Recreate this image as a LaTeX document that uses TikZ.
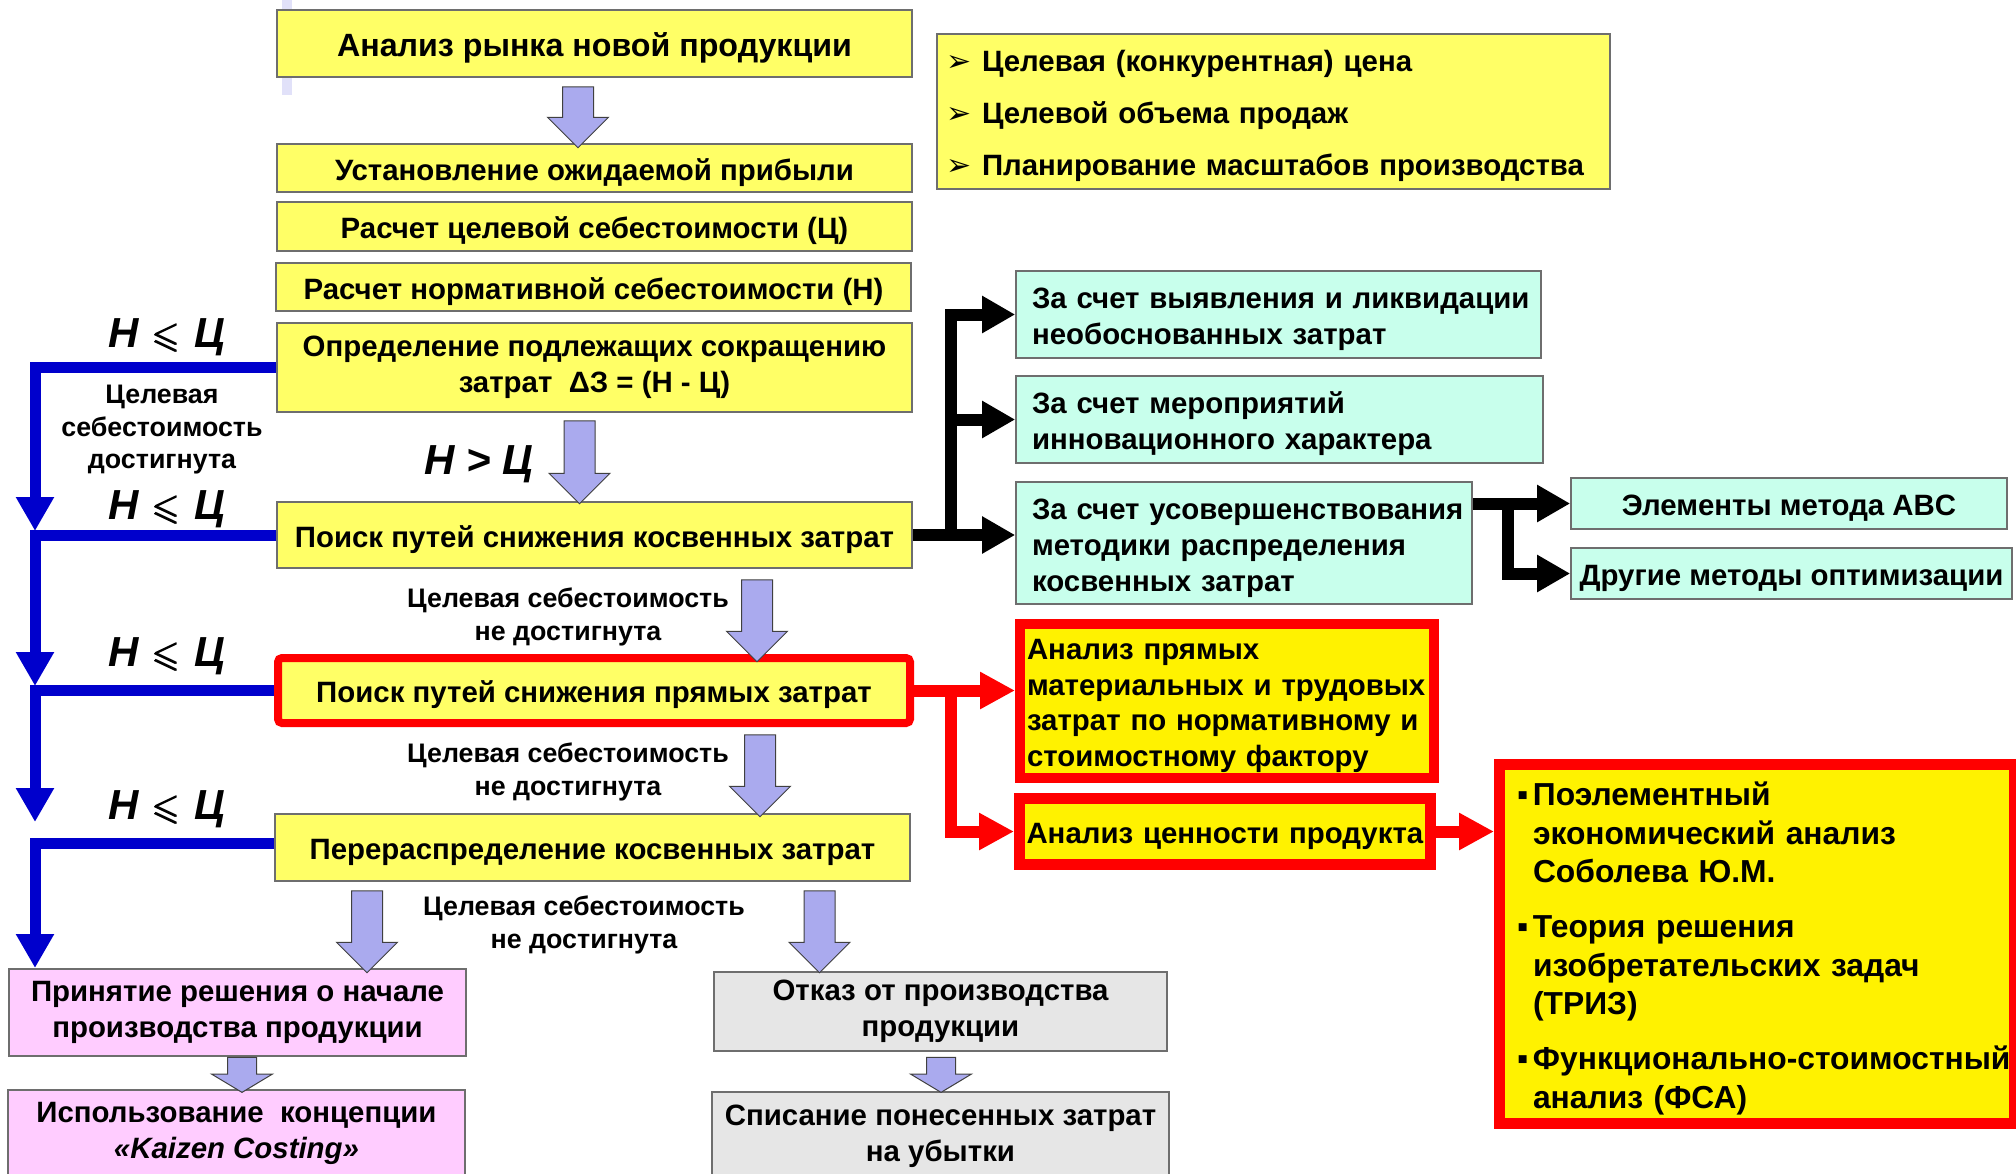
\documentclass[tikz,border=0pt]{standalone}
\usepackage{fontspec}
\usepackage{amsmath,amssymb}
\setmainfont{Liberation Sans}
\newfontfamily\dingfont{DejaVu Sans}
\usetikzlibrary{arrows.meta,shapes.arrows}

\begin{document}
\begin{tikzpicture}[x=0.5pt,y=-0.5pt,
    txt/.style={font=\fontsize{14.7}{18}\selectfont\bfseries, execute at begin node={\rule{0pt}{1.03em}}},
    ybox/.style={txt, draw=boxline, line width=0.8pt, fill=paleyellow, align=center, inner sep=0pt},
    rbox/.style={txt, draw=red, line width=4pt, fill=paleyellow, rounded corners=2pt, align=center, inner sep=0pt},
    pbox/.style={ybox, fill=lightpink},
    gbox/.style={ybox, fill=lightgray},
    cbox/.style={txt, draw=boxline, line width=0.8pt, fill=mint, align=left, inner xsep=8pt, inner ysep=0pt},
    ccbox/.style={ybox, fill=mint},
    hbox/.style={txt, draw=red, fill=yellow, align=left, inner ysep=0pt},
    cond/.style={font=\fontsize{21}{25}\selectfont\bfseries\itshape, inner sep=0pt},
    note/.style={font=\fontsize{13.4}{16.25}\selectfont\bfseries, align=center, inner sep=0pt},
    larr/.style={single arrow, draw=black!75, line width=0.5pt, fill=lavender, rotate=-90,
        inner xsep=0pt, inner ysep=7.5pt, single arrow head extend=7.5pt, minimum height=#1},
    sarr/.style={larr=#1, inner ysep=7pt, single arrow head extend=8pt, single arrow tip angle=118},
    blk/.style={draw=black, line width=6pt, -{Triangle[width=17.5pt,length=16.5pt]}},
    redarr/.style={draw=red, line width=6pt, -{Triangle[width=17.5pt,length=17.5pt]}},
    bluearr/.style={draw=deepblue, line width=5.5pt, -{Triangle[width=18pt,length=17pt]}}]
    % Define colors
    \definecolor{paleyellow}{RGB}{255,255,102}
    \definecolor{lightpink}{RGB}{255,204,255}
    \definecolor{lightgray}{RGB}{230,230,230}
    \definecolor{mint}{RGB}{200,255,236}
    \definecolor{lavender}{RGB}{170,170,238}
    \definecolor{deepblue}{RGB}{0,0,204}
    \definecolor{boxline}{RGB}{110,110,110}

    \useasboundingbox (0,0) rectangle (2016,1173);
    \fill[lavender!35] (282,0) rectangle (292,95);

    % Main column
    \node[ybox, font=\fontsize{16.1}{18}\selectfont\bfseries, minimum width=317.5pt, minimum height=33.5pt] (market) at (594.5,43.5) {Анализ рынка новой продукции};
    \node[ybox, minimum width=317.5pt, minimum height=24pt] (profit) at (594.5,168) {Установление ожидаемой прибыли};
    \node[ybox, minimum width=317.5pt, minimum height=24.5pt] (target) at (594.5,226.5) {Расчет целевой себестоимости (Ц)};
    \node[ybox, minimum width=317.5pt, minimum height=24pt] (norm) at (593.5,287) {Расчет нормативной себестоимости (Н)};
    \node[ybox, minimum width=317.5pt, minimum height=44.5pt] (cut) at (594.5,367.5) {Определение подлежащих сокращению\\затрат\ \ ΔЗ = (Н - Ц)};
    \node[ybox, minimum width=317.5pt, minimum height=33pt] (indirect) at (594.5,535) {Поиск путей снижения косвенных затрат};
    \node[rbox, minimum width=316pt, minimum height=32.5pt] (direct) at (594,690.5) {Поиск путей снижения прямых затрат};
    \node[ybox, minimum width=317.5pt, minimum height=33.5pt] (realloc) at (592.5,847.5) {Перераспределение косвенных затрат};
    \node[pbox, minimum width=228.5pt, minimum height=43.5pt] (accept) at (237.5,1012.5) {Принятие решения о начале\\производства продукции};
    \node[pbox, minimum width=228.5pt, minimum height=43pt] (kaizen) at (236.5,1133) {Использование\ \ концепции\\\textit{«Kaizen Costing»}};
    \node[gbox, minimum width=226.5pt, minimum height=39.5pt] (refuse) at (940.5,1011.5) {Отказ от производства\\продукции};
    \node[gbox, minimum width=228.5pt, minimum height=44pt] (writeoff) at (940.5,1136) {Списание понесенных затрат\\на убытки};

    % Goals list
    \node[ybox, align=left, font=\fontsize{14.7}{26}\selectfont\bfseries, inner xsep=4.5pt, text width=327.5pt,
        minimum width=336.5pt, minimum height=77.5pt] (goals) at (1273.5,111.5)
        {\makebox[18pt][l]{\dingfont\fontsize{15}{15}\selectfont ➢}Целевая (конкурентная) цена\\
         \makebox[18pt][l]{\dingfont\fontsize{15}{15}\selectfont ➢}Целевой объема продаж\\
         \makebox[18pt][l]{\dingfont\fontsize{15}{15}\selectfont ➢}Планирование масштабов производства};

    % Indirect cost ways
    \node[cbox, text width=246.5pt, minimum width=262.5pt, minimum height=43.5pt] (cyan1) at (1278.5,314.5) {За~счет~выявления~и~ликвидации\\необоснованных затрат};
    \node[cbox, text width=247.5pt, minimum width=263.5pt, minimum height=43.5pt] (cyan2) at (1279.5,419.5) {За счет мероприятий\\инновационного характера};
    \node[cbox, text width=212pt, minimum width=228pt, minimum height=61pt] (cyan3) at (1244,543) {За~счет~усовершенствования\\методики распределения\\косвенных затрат};
    \node[ccbox, minimum width=218pt, minimum height=25.5pt] (cyan4) at (1789,503.5) {Элементы метода ABC};
    \node[ccbox, minimum width=220.5pt, minimum height=25.5pt] (cyan5) at (1791.5,573.5) {Другие~методы~оптимизации};

    % Direct cost ways
    \node[hbox, line width=5pt, font=\fontsize{14.7}{17.85}\selectfont\bfseries, inner xsep=3.5pt, text width=200pt,
        minimum width=207pt, minimum height=77pt] (ryel1) at (1227,701)
        {Анализ прямых\\материальных~и~трудовых\\затрат~по~нормативному~и\\стоимостному фактору};
    \node[hbox, line width=5.5pt, inner xsep=3.5pt, text width=198.5pt, minimum width=205.5pt, minimum height=33pt] (ryel2) at (1225,831.5)
        {Анализ~ценности~продукта};
    \node[hbox, line width=5.5pt, font=\fontsize{15.9}{19.25}\selectfont\bfseries, inner xsep=8.75pt, text width=240pt,
        minimum width=257.5pt, minimum height=179.5pt] (methods) at (1757,944)
        {\makebox[8pt][l]{▪}Поэлементный\\\hspace*{8pt}экономический~анализ\\\hspace*{8pt}Соболева Ю.М.\\[8.25pt]
         \makebox[8pt][l]{▪}Теория решения\\\hspace*{8pt}изобретательских~задач\\\hspace*{8pt}(ТРИЗ)\\[8.25pt]
         \makebox[8pt][l]{▪}\mbox{Функционально-стоимостный}\\\hspace*{8pt}анализ (ФСА)};

    % Labels
    \node[cond] (leq1) at (167,337) {Н\hspace{0.33em}\scalebox{0.85}{$\pmb{\leqslant}$}\hspace{0.33em}Ц};
    \node[cond] (leq2) at (167,509) {Н\hspace{0.33em}\scalebox{0.85}{$\pmb{\leqslant}$}\hspace{0.33em}Ц};
    \node[cond] (leq3) at (167,656) {Н\hspace{0.33em}\scalebox{0.85}{$\pmb{\leqslant}$}\hspace{0.33em}Ц};
    \node[cond] (leq4) at (167,809) {Н\hspace{0.33em}\scalebox{0.85}{$\pmb{\leqslant}$}\hspace{0.33em}Ц};
    \node[cond] (gtr) at (479,464) {Н > Ц};
    \node[note] (reached) at (162,430) {Целевая\\себестоимость\\достигнута};
    \node[note] (notA) at (568,617) {Целевая себестоимость\\не достигнута};
    \node[note] (notB) at (568,772) {Целевая себестоимость\\не достигнута};
    \node[note] (notC) at (584,925) {Целевая себестоимость\\не достигнута};

    % Block arrows
    \node[larr=30.5pt] (ar1) at (578,109.5) {};
    \node[larr=41.5pt] (ar2) at (579.5,454.5) {};
    \node[larr=41pt] (ar3) at (757,613) {};
    \node[larr=41pt] (ar4) at (760,768) {};
    \node[larr=41pt] (ar5) at (367,924) {};
    \node[larr=41pt] (ar6) at (819.5,924) {};
    \node[sarr=17.5pt] (ar7) at (242,1070.5) {};
    \node[sarr=17.5pt] (ar8) at (941,1070.5) {};

    % Blue arrows
    \coordinate (b1) at (35,531);
    \coordinate (b2) at (35,686);
    \coordinate (b3) at (35,822);
    \coordinate (b4) at (35,968);
    \draw[bluearr] (cut.west) -| (b1);
    \draw[bluearr] (indirect.west) -| (b2);
    \draw[bluearr] (direct.west) -| (b3);
    \draw[bluearr] ([yshift=2pt]realloc.west) -| (b4);

    % Black arrows
    \coordinate (fork) at (951,535);
    \draw[blk] (indirect.east) -- (indirect.east -| cyan3.west);
    \draw[blk] (fork) |- (cyan1.west);
    \draw[blk] (fork |- cyan2.west) -- (cyan2.west);
    \coordinate (fork2) at (1508,503.5);
    \draw[blk] (cyan3.east |- cyan4.west) -- (cyan4.west);
    \draw[blk] (fork2) |- (cyan5.west);

    % Red arrows
    \coordinate (fork3) at (951,690.5);
    \draw[redarr] (direct.east) -- (direct.east -| ryel1.west);
    \draw[redarr] (fork3) |- (ryel2.west);
    \draw[redarr] (ryel2.east) -- (ryel2.east -| methods.west);
\end{tikzpicture}
\end{document}
